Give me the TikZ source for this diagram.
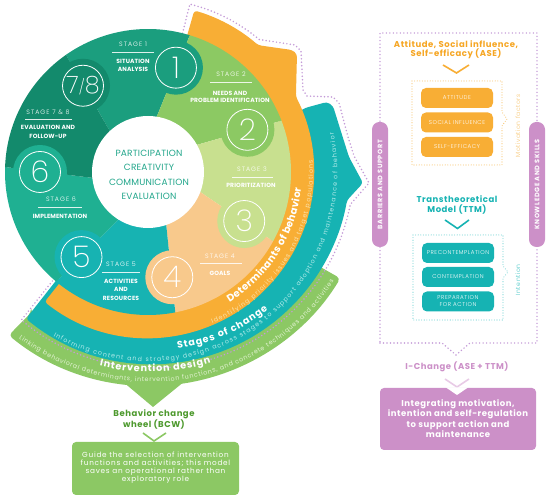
\documentclass[tikz,border=0pt]{standalone}
\usepackage{fontspec}
\setmainfont{Poppins}
\IfFontExistsTF{Poppins Light}{\def\lightname{Poppins Light}}{\def\lightname{Poppins}}
\IfFontExistsTF{Poppins ExtraLight}{\def\xlightname{Poppins ExtraLight}}{\let\xlightname\lightname}
\expandafter\newfontfamily\expandafter\numfont\expandafter{\xlightname}
\expandafter\newfontfamily\expandafter\fdl\expandafter{\lightname}[LetterSpace=16]
\expandafter\newfontfamily\expandafter\fcl\expandafter{\lightname}[LetterSpace=10]
\newfontfamily\fa{Poppins}[LetterSpace=2]
\newfontfamily\fb{Poppins}[LetterSpace=6]
\newfontfamily\fc{Poppins}[LetterSpace=10]
\usetikzlibrary{calc,decorations.text}
\definecolor{sOne}{HTML}{1B9E7E}
\definecolor{sTwo}{HTML}{8CC963}
\definecolor{sThree}{HTML}{C8E08F}
\definecolor{sFour}{HTML}{F8C98C}
\definecolor{sFive}{HTML}{17B3B2}
\definecolor{sSix}{HTML}{1FB092}
\definecolor{sSeven}{HTML}{138A6C}
\definecolor{bandO}{HTML}{F8AE35}
\definecolor{bandT}{HTML}{16B3B3}
\definecolor{bandG}{HTML}{8CC864}
\definecolor{purp}{HTML}{CC90C8}
\definecolor{dotp}{HTML}{C49BD8}
\definecolor{centerc}{HTML}{22A68B}
\definecolor{bcwgreen}{HTML}{4E9A2E}
\definecolor{orangetxt}{HTML}{F6A623}
\definecolor{orangelt}{HTML}{FCE1A8}
\definecolor{teallt}{HTML}{B3EBEA}
\definecolor{greenlt}{HTML}{E3F2D3}
\definecolor{motiv}{HTML}{F8C56F}
\definecolor{tealdot}{HTML}{6FD3D3}
\definecolor{tealtxt}{HTML}{3CC3C3}
\definecolor{ichev}{HTML}{E8CBE6}
\newcommand\stagewedge[3]{\fill[#3] ($(C)+(#1+6:56)$) -- ($(C)+(#1-2:143)$) arc[start angle=#1-2, end angle=#2-2, radius=143] -- ($(C)+(#2+6:56)$) -- cycle;}
\tikzset{
  dotline/.style={draw=dotp, line width=1.7pt, dash pattern=on 0pt off 3.5pt, line cap=round},
  stg/.style={text=white, inner sep=0pt, font=\fdl\fontsize{6.3}{7}\selectfont},
  stgb/.style={text=white, inner sep=0pt, font=\fa\fontsize{6}{7}\selectfont\bfseries},
  ctr/.style={text=centerc, inner sep=0pt, font=\fa\fontsize{9}{10}\selectfont},
  num/.style={text=white, inner sep=0pt, font=\numfont\fontsize{30}{30}\selectfont},
  ring/.style={draw=white, line width=0.8pt},
  uline/.style={draw=white, line width=0.5pt, opacity=0.85},
  pill/.style={rounded corners=5pt, minimum width=72pt, minimum height=20pt, inner sep=0pt, text=white, align=center, font=\fcl\fontsize{5.6}{7}\selectfont},
  sidepill/.style={fill=purp, rounded corners=7.5pt, minimum width=125pt, minimum height=16pt, inner sep=0pt, text=white, font=\fc\fontsize{6.5}{7}\selectfont\bfseries, rotate=90},
  ptitle/.style={inner sep=0pt, align=center, font=\fb\fontsize{8.5}{9.5}\selectfont\bfseries},
  chev/.style={line width=1.6pt},
  sidetext/.style={inner sep=0pt, rotate=90, font=\fcl\fontsize{6}{7}\selectfont},
  boxdot/.style={line width=1.1pt, dash pattern=on 0pt off 2.6pt, line cap=round},
}
\begin{document}
\begin{tikzpicture}[x=1pt,y=1pt]
\useasboundingbox (0,0) rectangle (550,500);
\fill[white] (0,0) rectangle (550,500);
\coordinate (C) at (148,328);
\coordinate (Ct) at (152,334);
\coordinate (Cg) at (150,336);
% green band
\fill[bandG, rounded corners=4] ($(Ct)+(-129.5:190)$) -- ($(Cg)+(-129.5:222)$) arc[start angle=-129.5, end angle=-31, radius=222] -- ($(Ct)+(-31:190)$) arc[start angle=-31, end angle=-129.5, radius=190] -- cycle;
\fill[bandG] (122,119) -- (153,93) -- (185,119) -- cycle;
% teal band
\fill[bandT, rounded corners=3] ($(C)+(-130.3:140)$) -- ($(Ct)+(-129.5:198)$) arc[start angle=-129.5, end angle=-10, radius=198] -- (363,317) -- (349,343) -- (343,362) -- (333,394) -- (327,398) -- (305,392) -- ($(C)+(20:140)$) arc[start angle=20, end angle=-130.3, radius=140] -- cycle;
% orange band
\fill[bandO, rounded corners=3] ($(C)+(-128.5:140)$) -- ($(C)+(-128.5:166)$) arc[start angle=-128.5, end angle=27, radius=166] -- (297,446) -- (292,450) -- ($(C)+(49:168)$) arc[start angle=49, end angle=74, radius=168] -- ($(C)+(74:140)$) arc[start angle=74, end angle=-128.5, radius=140] -- cycle;
% dotted outline
\draw[dotline] ($(C)+(76:143)$) -- ($(C)+(76:173)$) arc[start angle=76, end angle=50, radius=173] -- (295,455) -- (301,449) -- (303,410) -- (307,404) -- (333,403) -- (339,397) -- (348,363) -- (354,344) -- (369,317) -- ($(Ct)+(-11:202)$) arc[start angle=-11, end angle=-130.3, radius=202] -- ($(C)+(-131.3:143)$);
% stage sectors
\stagewedge{75}{127}{sOne}
\stagewedge{23}{75}{sTwo}
\stagewedge{-27}{23}{sThree}
\stagewedge{-77}{-27}{sFour}
\stagewedge{-128}{-77}{sFive}
\stagewedge{180}{232}{sSix}
\stagewedge{127}{180}{sSeven}
\foreach \a/\c in {75/sOne, 23/sTwo, -27/sThree, -77/sFour, -128/sFive, 180/sSix, 127/sSeven}{
  \fill[\c] ($(C)+(\a:108)$) circle[radius=27];
  \draw[ring] ($(C)+(\a:108)$) circle[radius=20.5];
}
\node[num] (n1) at ($(C)+(75:108)$) {1};
\node[num] (n2) at ($(C)+(23:108)$) {2};
\node[num] (n3) at ($(C)+(-27:108)$) {3};
\node[num] (n4) at ($(C)+(-77:108)$) {4};
\node[num] (n5) at ($(C)+(-128:108)$) {5};
\node[num] (n6) at ($(C)+(180:108)$) {6};
\node[num, font=\numfont\fontsize{24}{24}\selectfont] (n78) at ($(C)+(127:108)$) {7\raisebox{1.5pt}{\fontsize{15}{15}\selectfont/}8};
\fill[white] (C) circle[radius=56];
% centre
\node[ctr] (p1) at (149,347) {PARTICIPATION};
\node[ctr] (p2) at (149,333) {CREATIVITY};
\node[ctr] (p3) at (149,318) {COMMUNICATION};
\node[ctr] (p4) at (149,304) {EVALUATION};
% stage labels
\node[stg] (s1a) at (133,456) {STAGE 1};
\draw[uline] (112,448) -- (154,448);
\node[stgb] (s1b) at (133,439) {SITUATION};
\node[stgb] (s1c) at (133,431) {ANALYSIS};
\node[stg] (s2a) at (231,426) {STAGE 2};
\draw[uline] (210,418) -- (252,418);
\node[stgb] (s2b) at (230,407) {NEEDS AND};
\node[stgb] (s2c) at (230,399.5) {PROBLEM IDENTIFICATION};
\node[stg] (s3a) at (252,331) {STAGE 3};
\draw[uline] (232,323) -- (273,323);
\node[stgb] (s3b) at (251,314.5) {PRIORITIZATION};
\node[stg] (s4a) at (220,244) {STAGE 4};
\draw[uline] (200,237) -- (242,237);
\node[stgb] (s4b) at (220,227) {GOALS};
\node[stg] (s5a) at (121,236) {STAGE 5};
\draw[uline] (102,228) -- (140,228);
\node[stgb] (s5b) at (121,219) {ACTIVITIES};
\node[stgb] (s5c) at (121,211) {AND};
\node[stgb] (s5d) at (121,202) {RESOURCES};
\node[stg] (s6a) at (61,301) {STAGE 6};
\draw[uline] (38,293) -- (82,293);
\node[stgb] (s6b) at (60,284) {IMPLEMENTATION};
\node[stg] (s7a) at (48,388) {STAGE 7 \& 8};
\draw[uline] (25,381) -- (72,381);
\node[stgb] (s7b) at (48,373) {EVALUATION AND};
\node[stgb] (s7c) at (48,364) {FOLLOW-UP};
% band texts
\path[decorate, decoration={text along path, text align=fit to path, text color=white, text={|\fontsize{10}{12}\selectfont\bfseries|Determinants of behavior}}] ($(C)+(-58:154)$) arc[start angle=-58, end angle=-6, radius=154];
\path[decorate, decoration={text along path, text align=fit to path, text color=orangelt, text={|\fontsize{6.3}{8}\selectfont|Identifying priority issues and target populations}}] ($(C)+(-67:165)$) arc[start angle=-67, end angle=4, radius=165];
\path[decorate, decoration={text along path, text align=fit to path, text color=white, text={|\fontsize{9.6}{12}\selectfont\bfseries|Stages of change}}] ($(Ct)+(-82:184.5)$) arc[start angle=-82, end angle=-51, radius=184.5];
\path[decorate, decoration={text along path, text align=fit to path, text color=teallt, text={|\fontsize{6.3}{8}\selectfont|Informing content and strategy design across stages to support adoption and maintenance of behavior}}] ($(C)+(240:189.5)$) arc[start angle=240, end angle=372, radius=189.5];
\path[decorate, decoration={text along path, text align=fit to path, text color=white, text={|\fontsize{9.6}{12}\selectfont\bfseries|Intervention design}}] ($(Cg)+(256:208)$) arc[start angle=256, end angle=287, radius=208];
\path[decorate, decoration={text along path, text align=fit to path, text color=greenlt, text={|\fontsize{6.3}{8}\selectfont|Linking behavioral determinants, intervention functions, and concrete techniques and activities}}] ($(Cg)+(233:218)$) arc[start angle=233, end angle=327.5, radius=218];
% right panel
\draw[dotline] (380,157) -- (442,157) -- (456,145) -- (470,157) -- (537,157) -- (537,467) -- (380,467) -- cycle;
\node[sidepill] (bar) at (380,315.5) {BARRIERS AND SUPPORT};
\node[sidepill] (kno) at (537,315.5) {KNOWLEDGE AND SKILLS};
\node[ptitle, text=orangetxt] (ase) at (456,450.5) {Attitude, Social influence,\\Self-efficacy (ASE)};
\draw[chev, draw=bandO] (443,435) -- (456.5,427) -- (469,435);
\draw[boxdot, draw=motiv] (412,419) -- (502,419) -- (502,388) -- (507,381) -- (502,374) -- (502,335) -- (412,335) -- cycle;
\node[pill, fill=bandO] (att) at (457,402) {ATTITUDE};
\node[pill, fill=bandO] (soc) at (457,377.5) {SOCIAL INFLUENCE};
\node[pill, fill=bandO] (sef) at (457,353) {SELF-EFFICACY};
\node[sidetext, text=motiv] (mot) at (518,374) {Motivation factors};
\node[ptitle, text=bandT] (ttm) at (457,295) {Transtheoretical\\Model (TTM)};
\draw[chev, draw=bandT] (445,280) -- (457.5,271.5) -- (469,280);
\draw[boxdot, draw=tealdot] (413,265) -- (503,265) -- (503,234) -- (508,228) -- (503,222) -- (503,180) -- (413,180) -- cycle;
\node[pill, fill=bandT] (pre) at (458,247) {PRECONTEMPLATION};
\node[pill, fill=bandT] (con) at (458,223) {CONTEMPLATION};
\node[pill, fill=bandT] (prep) at (458,198.5) {PREPARATION\\FOR ACTION};
\node[sidetext, text=tealtxt] (intn) at (518,220) {Intention};
\node[ptitle, text=purp] (ich) at (457,133) {I-Change (ASE + TTM)};
\draw[chev, draw=ichev] (445,121) -- (457,113) -- (469,121);
\fill[purp, rounded corners=4] (380,50) rectangle (536,112);
\fill[white] (446,112.5) -- (457,105) -- (468,112.5) -- cycle;
\node[inner sep=0pt, align=center, text=white, font=\fb\fontsize{8.5}{10.4}\selectfont\bfseries] (ibox) at (458,81.5) {Integrating motivation,\\intention and self-regulation\\to support action and\\maintenance};
% BCW
\node[ptitle, text=bcwgreen] (bcw) at (154,80.5) {Behavior change\\wheel (BCW)};
\draw[chev, draw=bandG] (143,67) -- (154,59) -- (166,67);
\fill[bandG, rounded corners=4] (72,5) rectangle (239,58);
\node[inner sep=0pt, align=center, text=white, font=\fc\fontsize{7.3}{8}\selectfont] (bcwtxt) at (155.5,32) {Guide the selection of intervention\\functions and activities; this model\\saves an operational rather than\\exploratory role};
\end{tikzpicture}
\end{document}
